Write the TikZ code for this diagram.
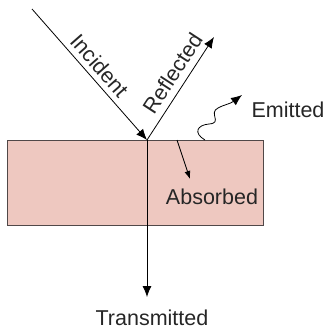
\documentclass[tikz,border=0pt]{standalone}
\usepackage{fontspec}
\setmainfont{Liberation Sans}
\usetikzlibrary{arrows.meta}
\definecolor{slabfill}{RGB}{238,200,192}
\definecolor{slabline}{RGB}{80,72,72}

\begin{document}
\begin{tikzpicture}[x=1pt,y=-1pt,
  ray/.style={line width=0.8pt,-{Latex[length=11pt,width=9pt]}},
  lbl/.style={font=\fontsize{21.5}{25}\selectfont,text=black!85}]
\useasboundingbox (0,0) rectangle (325,330);

% slab
\draw[fill=slabfill,draw=slabline,line width=0.9pt] (7,140) rectangle (263,225);

\coordinate (hit) at (147,140);
\coordinate (inc) at (32,9);
\coordinate (refl) at (214,37);
\coordinate (trans) at (147,297);
\coordinate (absS) at (177,140);
\coordinate (absE) at (190,179);
\coordinate (emS) at (205,140);
\coordinate (emE) at (242,95);

\draw[ray] (inc) -- node[lbl,sloped,above,pos=0.5,inner sep=5pt] {Incident} (hit);
\draw[ray] (hit) -- node[lbl,sloped,above,pos=0.57,inner sep=7pt] {Reflected} (refl);
\draw[ray] (hit) -- (trans);
\draw[ray,-{Latex[length=8pt,width=6pt]}] (absS) -- (absE);
\draw[ray] (emS) .. controls (193,133) and (197,125) .. (209,124)
  .. controls (223,123) and (208,113) .. (218,108)
  .. controls (223,105) and (230,104) .. (emE);

\node[lbl] (transL) at (152,318) {Transmitted};
\node[lbl] (absL) at (212,197) {Absorbed};
\node[lbl] (emL) at (288,110) {Emitted};
\end{tikzpicture}
\end{document}
